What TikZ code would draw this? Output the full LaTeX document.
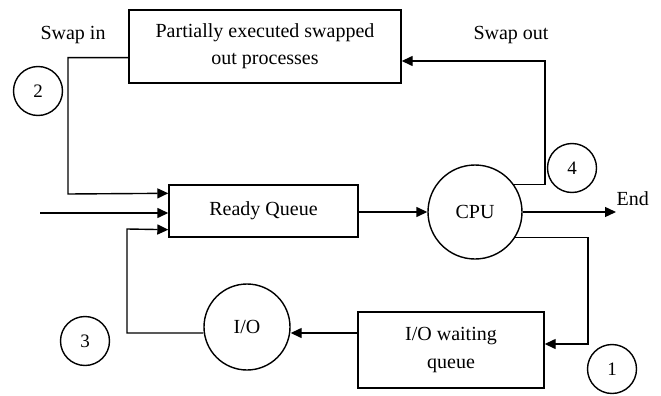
\documentclass[tikz,border=0pt]{standalone}
\usepackage{fontspec}
\setmainfont{Liberation Serif}
\usetikzlibrary{arrows.meta,calc}
\begin{document}
\begin{tikzpicture}[x=1pt,y=-1pt,
  line width=1.4pt,
  font=\fontsize{20}{23}\selectfont,
  boxnode/.style={draw,rectangle,align=center,inner sep=0pt},
  bignode/.style={draw,circle,inner sep=0pt},
  numnode/.style={draw,circle,minimum size=49pt,inner sep=0pt,font=\fontsize{19}{22}\selectfont},
  flow/.style={-{Triangle[length=11pt,width=10pt]}},
  lbl/.style={inner sep=0pt}]
\useasboundingbox (0,0) rectangle (661,396);

% boxes and circles
\node[boxnode,minimum width=272pt,minimum height=73pt] (swapped) at (265,46.5)
  {Partially executed swapped\\[4pt]out processes};
\node[boxnode,minimum width=189pt,minimum height=52pt] (ready) at (263.5,211) {Ready Queue};
\node[bignode,minimum size=94pt] (cpu) at (475,212) {CPU};
\node[bignode,minimum size=86pt] (io) at (247,327) {I/O};
\node[boxnode,minimum width=186pt,minimum height=76pt] (ioq) at (451,350)
  {I/O waiting\\[5pt]queue};

% numbered markers
\node[numnode] (n1) at (612,369) {1};
\node[numnode] (n2) at (38,91) {2};
\node[numnode] (n3) at (85,341) {3};
\node[numnode] (n4) at (572,168) {4};

% labels
\node[lbl] (swapin) at (73,35) {Swap in};
\node[lbl] (swapout) at (511,35) {Swap out};
\node[lbl,anchor=west] (endl) at (616,199) {End};

% free ends
\coordinate (newin) at (40,213);
\coordinate (exit) at (616,212);

% swap in: back to the ready queue
\draw[flow] ($(swapped.south west)+(0,-26)$) -| (68,194) -- ($(ready.north west)+(0,9)$);
% new processes
\draw[flow] (newin) -- (ready.west |- newin);
% return from I/O
\draw[flow] ($(io.west)+(0,6)$) -| (127,229) -- ($(ready.south west)+(0,-8)$);
% dispatch
\draw[flow] (ready.east |- cpu.west) -- (cpu.west);
\draw[flow] (cpu.east) -- (exit);
% swap out
\draw[flow] (cpu.35) -| (545,61) -- (swapped.east |- 0,61);
% CPU to I/O waiting queue
\draw[flow] (cpu.-32) -| (588,344) -- (ioq.east |- 0,344);
% I/O waiting queue to I/O
\draw[flow] (ioq.west |- 0,333) -- ($(io.east)+(0,6)$);
\end{tikzpicture}
\end{document}
